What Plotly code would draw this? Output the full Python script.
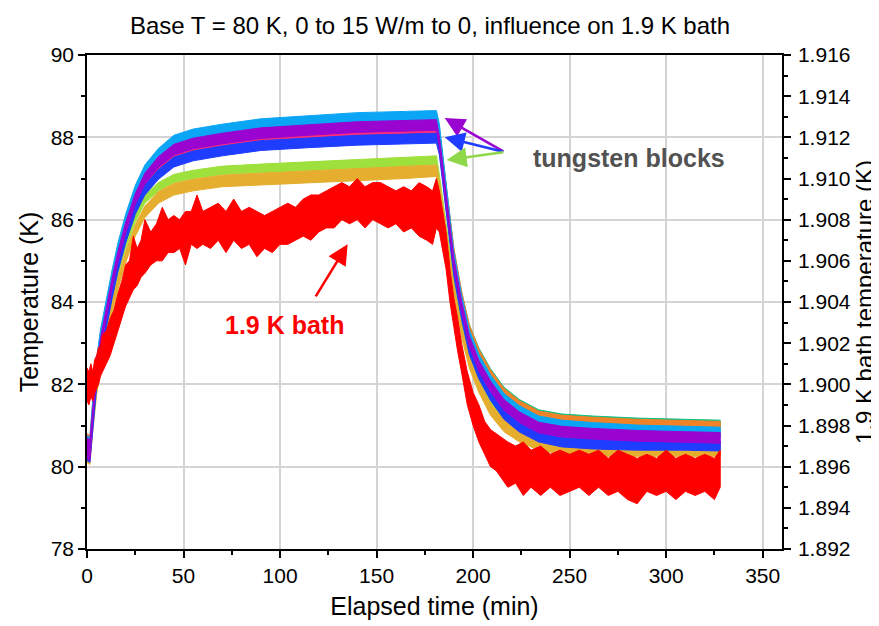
import plotly.graph_objects as go

# ---------------- data ----------------
# time grid (min) for the tungsten block envelopes
t_w = [0, 1.5, 3, 5, 7, 10, 13, 16, 20, 25, 30, 37, 45, 55, 70, 90, 115, 140, 165, 181,
       182.5, 186, 190, 194, 198, 203, 209, 216, 224, 234, 246, 262, 285, 310, 328]

# lower / upper envelope of each tungsten block trace (K, left axis)
cyan_lo = [80.25, 80.2, 81.37, 82.37, 83.07, 83.82, 84.52, 85.17, 85.87, 86.57, 87.07, 87.47, 87.79, 87.94, 88.06, 88.19, 88.27, 88.34, 88.37, 88.39,
           88.07, 86.57, 84.97, 83.92, 83.07, 82.47, 81.97, 81.52, 81.22, 80.97, 80.87, 80.81, 80.75, 80.72, 80.7]
cyan_hi = [80.75, 80.7, 81.63, 82.63, 83.33, 84.08, 84.78, 85.43, 86.13, 86.83, 87.33, 87.73, 88.05, 88.2, 88.32, 88.45, 88.53, 88.6, 88.63, 88.65,
           88.33, 86.83, 85.23, 84.18, 83.33, 82.73, 82.23, 81.78, 81.48, 81.23, 81.13, 81.07, 81.01, 80.98, 80.96]
teal_lo = [80.35, 80.3, 81.3, 82.3, 83.0, 83.75, 84.45, 85.1, 85.8, 86.5, 87.0, 87.4, 87.7, 87.85, 87.97, 88.1, 88.18, 88.25, 88.28, 88.3,
           87.95, 86.55, 85.05, 84.0, 83.18, 82.58, 82.08, 81.63, 81.33, 81.08, 80.98, 80.93, 80.88, 80.85, 80.83]
teal_hi = [80.59, 80.54, 81.54, 82.54, 83.24, 83.99, 84.69, 85.34, 86.04, 86.74, 87.24, 87.64, 87.94, 88.09, 88.21, 88.34, 88.42, 88.49, 88.52, 88.54,
           88.19, 86.79, 85.29, 84.24, 83.45, 82.88, 82.38, 81.93, 81.63, 81.38, 81.28, 81.23, 81.18, 81.15, 81.13]
orange_lo = [80.25, 80.2, 81.33, 82.33, 83.03, 83.78, 84.48, 85.13, 85.83, 86.53, 87.03, 87.43, 87.73, 87.88, 88.0, 88.13, 88.21, 88.28, 88.31, 88.33,
             87.98, 86.58, 85.08, 84.03, 83.21, 82.61, 82.11, 81.66, 81.36, 81.11, 81.01, 80.96, 80.91, 80.88, 80.86]
orange_hi = [80.8, 80.75, 81.57, 82.57, 83.27, 84.02, 84.72, 85.37, 86.07, 86.77, 87.27, 87.67, 87.97, 88.12, 88.24, 88.37, 88.45, 88.52, 88.55, 88.57,
             88.22, 86.82, 85.32, 84.27, 83.45, 82.85, 82.35, 81.9, 81.6, 81.35, 81.25, 81.2, 81.15, 81.12, 81.1]
pink_lo = [80.22, 80.17, 81.07, 82.07, 82.77, 83.52, 84.22, 84.87, 85.57, 86.27, 86.77, 87.17, 87.47, 87.62, 87.74, 87.87, 87.95, 88.02, 88.05, 88.07,
           87.67, 86.27, 84.72, 83.67, 82.82, 82.22, 81.72, 81.27, 80.97, 80.72, 80.62, 80.57, 80.52, 80.49, 80.47]
pink_hi = [80.36, 80.31, 81.21, 82.21, 82.91, 83.66, 84.36, 85.01, 85.71, 86.41, 86.91, 87.31, 87.61, 87.76, 87.88, 88.01, 88.09, 88.16, 88.19, 88.21,
           87.81, 86.41, 84.86, 83.81, 82.96, 82.36, 81.86, 81.41, 81.11, 80.86, 80.76, 80.71, 80.66, 80.63, 80.61]
purple_lo = [80.2, 80.15, 81.17, 82.17, 82.87, 83.62, 84.32, 84.97, 85.67, 86.37, 86.87, 87.27, 87.57, 87.72, 87.84, 87.97, 88.05, 88.12, 88.15, 88.17,
             87.77, 86.37, 84.82, 83.77, 82.92, 82.32, 81.82, 81.37, 81.07, 80.82, 80.72, 80.67, 80.62, 80.59, 80.57]
purple_hi = [80.7, 80.65, 81.43, 82.43, 83.13, 83.88, 84.58, 85.23, 85.93, 86.63, 87.13, 87.53, 87.83, 87.98, 88.1, 88.23, 88.31, 88.38, 88.41, 88.43,
             88.03, 86.63, 85.08, 84.03, 83.18, 82.58, 82.08, 81.63, 81.33, 81.08, 80.98, 80.93, 80.88, 80.85, 80.83]
blue_lo = [80.15, 80.1, 80.93, 81.93, 82.63, 83.38, 84.08, 84.73, 85.43, 86.13, 86.6, 86.98, 87.28, 87.43, 87.55, 87.68, 87.75, 87.81, 87.84, 87.86,
           87.58, 86.18, 84.63, 83.58, 82.73, 82.13, 81.61, 81.15, 80.84, 80.6, 80.48, 80.43, 80.4, 80.4, 80.38]
blue_hi = [80.55, 80.5, 81.17, 82.17, 82.87, 83.62, 84.32, 84.97, 85.67, 86.37, 86.84, 87.22, 87.52, 87.67, 87.79, 87.92, 87.99, 88.05, 88.08, 88.1,
           87.82, 86.42, 84.87, 83.82, 82.97, 82.37, 81.85, 81.39, 81.08, 80.84, 80.72, 80.67, 80.64, 80.64, 80.62]
lime_lo = [80.35, 80.3, 81.0, 81.95, 82.6, 83.35, 84.0, 84.65, 85.3, 85.95, 86.4, 86.7, 86.9, 87.0, 87.1, 87.15, 87.2, 87.25, 87.3, 87.35,
           86.9, 85.65, 84.35, 83.35, 82.6, 82.0, 81.45, 81.0, 80.7, 80.5, 80.4, 80.35, 80.35, 80.35, 80.35]
lime_hi = [80.55, 80.5, 81.2, 82.15, 82.8, 83.55, 84.2, 84.85, 85.5, 86.15, 86.6, 86.9, 87.1, 87.2, 87.3, 87.35, 87.4, 87.45, 87.5, 87.55,
           87.1, 85.85, 84.55, 83.55, 82.8, 82.2, 81.65, 81.2, 80.9, 80.7, 80.6, 80.55, 80.55, 80.55, 80.55]
gold_lo = [80.1, 80.05, 80.85, 81.75, 82.35, 83.05, 83.7, 84.3, 84.95, 85.6, 86.05, 86.4, 86.6, 86.7, 86.8, 86.85, 86.9, 86.95, 87.0, 87.05,
           86.65, 85.45, 84.15, 83.15, 82.4, 81.8, 81.25, 80.85, 80.6, 80.4, 80.3, 80.25, 80.25, 80.25, 80.25]
gold_hi = [80.6, 80.5, 81.13, 82.03, 82.63, 83.33, 83.98, 84.58, 85.23, 85.88, 86.33, 86.68, 86.88, 86.98, 87.08, 87.13, 87.18, 87.23, 87.28, 87.33,
           86.93, 85.73, 84.43, 83.43, 82.68, 82.08, 81.53, 81.13, 80.88, 80.68, 80.58, 80.53, 80.53, 80.53, 80.53]

# 1.9 K bath (right axis, K): time grid and lower / upper envelope
t_bath = [0, 1, 2, 3, 4, 5, 6, 7, 8, 10, 12, 14, 16, 18, 20, 22, 24, 26, 28, 30, 33, 36, 39, 42, 45, 48, 51, 54, 57, 60,
          64, 68, 72, 76, 80, 84, 88, 92, 96, 100, 104, 108, 112, 116, 120, 124, 128, 132, 136, 140, 144, 148, 152, 156, 160,
          164, 168, 172, 176, 179, 181, 182.5, 184, 186, 188, 190, 192, 194, 197, 200, 203, 206, 209, 212, 215, 218, 222, 226,
          230, 235, 240, 245, 250, 255, 260, 265, 270, 275, 280, 285, 290, 295, 300, 305, 310, 315, 320, 325, 328]
bath_lo = [1.8992, 1.8990, 1.8994, 1.8992, 1.8996, 1.8998, 1.9000, 1.9004, 1.9006, 1.9010, 1.9014, 1.9020, 1.9026, 1.9032, 1.9038,
           1.9042, 1.9046, 1.9048, 1.9052, 1.9054, 1.9058, 1.9060, 1.9060, 1.9064, 1.9064, 1.9066, 1.9058, 1.9068, 1.9066, 1.9068,
           1.9066, 1.9070, 1.9064, 1.9070, 1.9066, 1.9068, 1.9062, 1.9066, 1.9064, 1.9068, 1.9068, 1.9070, 1.9072, 1.9070, 1.9074,
           1.9076, 1.9076, 1.9080, 1.9078, 1.9080, 1.9076, 1.9080, 1.9078, 1.9076, 1.9078, 1.9074, 1.9076, 1.9072, 1.9070, 1.9068,
           1.9076, 1.9074, 1.9066, 1.9056, 1.9040, 1.9028, 1.9016, 1.9006, 1.8990, 1.8980, 1.8972, 1.8966, 1.8960, 1.8958, 1.8954,
           1.8950, 1.8952, 1.8946, 1.8950, 1.8946, 1.8950, 1.8946, 1.8948, 1.8950, 1.8946, 1.8950, 1.8946, 1.8948, 1.8944, 1.8942,
           1.8948, 1.8946, 1.8948, 1.8944, 1.8948, 1.8946, 1.8948, 1.8944, 1.8950]
bath_hi = [1.9008, 1.9006, 1.9010, 1.9006, 1.9012, 1.9014, 1.9018, 1.9018, 1.9024, 1.9026, 1.9032, 1.9036, 1.9044, 1.9050, 1.9058,
           1.9060, 1.9072, 1.9066, 1.9070, 1.9080, 1.9074, 1.9078, 1.9086, 1.9080, 1.9082, 1.9080, 1.9084, 1.9084, 1.9092, 1.9084,
           1.9086, 1.9088, 1.9084, 1.9090, 1.9084, 1.9086, 1.9084, 1.9082, 1.9084, 1.9086, 1.9088, 1.9086, 1.9090, 1.9092, 1.9092,
           1.9094, 1.9096, 1.9098, 1.9096, 1.9100, 1.9096, 1.9098, 1.9098, 1.9096, 1.9094, 1.9096, 1.9094, 1.9098, 1.9096, 1.9094,
           1.9100, 1.9094, 1.9086, 1.9074, 1.9056, 1.9042, 1.9032, 1.9020, 1.9006, 1.8996, 1.8990, 1.8982, 1.8978, 1.8976, 1.8974,
           1.8972, 1.8970, 1.8972, 1.8968, 1.8970, 1.8966, 1.8968, 1.8966, 1.8968, 1.8966, 1.8968, 1.8964, 1.8968, 1.8966, 1.8964,
           1.8966, 1.8964, 1.8968, 1.8964, 1.8966, 1.8964, 1.8966, 1.8964, 1.8968]

# draw order: bottom first
block_series = [
    ("lime", "#9ee03c", lime_lo, lime_hi),
    ("gold", "#e6ae2e", gold_lo, gold_hi),
    ("teal", "#10c084", teal_lo, teal_hi),
    ("orange", "#f08228", orange_lo, orange_hi),
    ("cyan", "#0aa6f5", cyan_lo, cyan_hi),
    ("pink", "#ff2e78", pink_lo, pink_hi),
    ("blue", "#1f3dff", blue_lo, blue_hi),
    ("purple", "#9a04d0", purple_lo, purple_hi),
]

FONT = "Liberation Sans, Arial, sans-serif"

fig = go.Figure()

for name, col, lo, hi in block_series:
    fig.add_trace(go.Scatter(
        x=t_w + t_w[::-1], y=hi + lo[::-1], mode="lines", fill="toself",
        fillcolor=col, line=dict(color=col, width=1), name=name,
        showlegend=False, hoverinfo="skip", xaxis="x", yaxis="y"))

fig.add_trace(go.Scatter(
    x=t_bath + t_bath[::-1], y=bath_hi + bath_lo[::-1], mode="lines", fill="toself",
    fillcolor="#ff0000", line=dict(color="#ff0000", width=1), name="1.9 K bath",
    showlegend=False, hoverinfo="skip", xaxis="x", yaxis="y2"))

axis_common = dict(
    showline=True, linecolor="black", linewidth=1.5, ticks="outside", ticklen=7,
    tickwidth=1.5, tickcolor="black", zeroline=False, automargin=False,
    tickfont=dict(family=FONT, size=21, color="black"),
)

# the page body adds an 8 px offset, so the figure is 8 px smaller on each axis
fig.update_layout(
    width=871, height=618,
    margin=dict(l=79, r=97, t=47, b=77, autoexpand=False),
    paper_bgcolor="white", plot_bgcolor="white",
    title=dict(text="Base T = 80 K, 0 to 15 W/m to 0, influence on 1.9 K bath",
               x=0.4845, xanchor="center", y=0.972, yanchor="middle",
               font=dict(family=FONT, size=24, color="black")),
    xaxis=dict(range=[0, 360], dtick=50, tick0=0, showgrid=True, gridcolor="#d4d4d4",
               gridwidth=1.5, mirror=True,
               minor=dict(dtick=25, ticks="outside", ticklen=4, tickcolor="black", showgrid=False),
               title=dict(text="Elapsed time (min)", font=dict(family=FONT, size=25, color="black"), standoff=12),
               **axis_common),
    yaxis=dict(range=[78, 90], dtick=2, tick0=78, showgrid=True, gridcolor="#d4d4d4",
               gridwidth=1.5,
               minor=dict(dtick=1, ticks="outside", ticklen=4, tickcolor="black", showgrid=False),
               title=dict(text="Temperature (K)", font=dict(family=FONT, size=25, color="black"), standoff=5),
               **axis_common),
    yaxis2=dict(range=[1.892, 1.916], dtick=0.002, tick0=1.892, overlaying="y", side="right",
                tickformat=".3f", showgrid=False, ticklabelstandoff=3,
                minor=dict(dtick=0.001, ticks="outside", ticklen=4, tickcolor="black", showgrid=False),
                title=dict(text="1.9 K bath temperature (K)", font=dict(family=FONT, size=24, color="black"), standoff=6),
                **axis_common),
)

# annotations
fig.add_annotation(x=280.5, y=87.5, xref="x", yref="y", text="<b>tungsten blocks</b>",
                   showarrow=False, font=dict(family=FONT, size=25, color="#525252"))
fig.add_annotation(x=102.5, y=83.45, xref="x", yref="y", text="<b>1.9 K bath</b>",
                   showarrow=False, font=dict(family=FONT, size=25, color="#ff0000"))

arrows = [
    (185.3, 88.47, "#9a04d0"),
    (185.3, 88.0, "#1f3dff"),
    (186.3, 87.45, "#8fd84a"),
]
for hx, hy, col in arrows:
    fig.add_annotation(x=hx, y=hy, ax=216.4, ay=87.64, xref="x", yref="y", axref="x", ayref="y",
                       text="", showarrow=True, arrowhead=2, arrowsize=1.6, arrowwidth=2.5,
                       arrowcolor=col)
fig.add_annotation(x=135.0, y=85.4, ax=118.0, ay=84.1, xref="x", yref="y", axref="x", ayref="y",
                   text="", showarrow=True, arrowhead=2, arrowsize=1.6, arrowwidth=2.5,
                   arrowcolor="#ff0000")

fig.write_html("out.html")
